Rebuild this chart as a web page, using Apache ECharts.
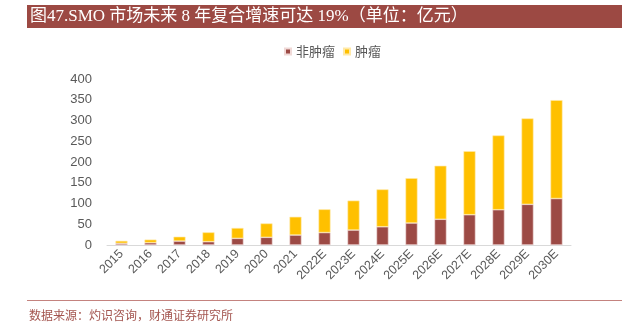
<!DOCTYPE html>
<html><head><meta charset="utf-8">
<script src="https://cdn.jsdelivr.net/npm/echarts@6/dist/echarts.min.js"></script>
<style>html,body{margin:0;padding:0;background:#fff}#c{width:631px;height:327px}</style>
</head><body><div id="c"></div>
<script>
const titleText = '图47.SMO 市场未来 8 年复合增速可达 19%（单位：亿元）';
const sourceText = '数据来源：灼识咨询，财通证券研究所';
const categories = ['2015','2016','2017','2018','2019','2020','2021','2022E','2023E','2024E','2025E','2026E','2027E','2028E','2029E','2030E'];
const nonTumor = [4, 5.5, 9.5, 8, 16, 18.5, 24, 30, 36, 44, 53, 62, 73, 85, 98, 112];
const tumor = [6, 7.5, 10.5, 22.5, 25, 33.5, 44, 56, 71, 90, 108, 129, 153, 179, 207, 237];
const seriesNames = ['非肿瘤', '肿瘤'];
const yTicks = { min: 0, max: 400, interval: 50 };

const chart = echarts.init(document.getElementById('c'), null, {renderer: 'canvas'});
chart.setOption({
  animation: false,
  backgroundColor: '#fff',
  legend: {
    top: 40, left: 279,
    itemWidth: 6, itemHeight: 6, itemGap: 8,
    icon: 'rect',
    textStyle: { color: '#595959', fontSize: 13, fontFamily: 'Noto Sans CJK SC' },
    data: seriesNames
  },
  grid: { left: 107, right: 60, top: 79, bottom: 82, containLabel: false },
  xAxis: {
    type: 'category', data: categories,
    axisLine: { lineStyle: { color: '#d9d9d9', width: 1 } },
    axisTick: { show: false },
    axisLabel: { rotate: 45, color: '#595959', fontSize: 12.5, fontFamily: 'Liberation Sans', margin: 7, interval: 0 }
  },
  yAxis: {
    type: 'value', min: yTicks.min, max: yTicks.max, interval: yTicks.interval,
    axisLine: { show: false }, axisTick: { show: false }, splitLine: { show: false },
    axisLabel: { color: '#595959', fontSize: 13, fontFamily: 'Liberation Sans', margin: 15 }
  },
  series: [
    { name: seriesNames[0], type: 'bar', stack: 't', data: nonTumor, barWidth: 12,
      itemStyle: { color: '#9C4A45', borderColor: '#f0d9d7', borderWidth: 0.6 } },
    { name: seriesNames[1], type: 'bar', stack: 't', data: tumor, barWidth: 12,
      itemStyle: { color: '#FFC000', borderColor: '#ffe9a8', borderWidth: 0.6 } }
  ],
  graphic: [
    { type: 'rect', shape: { x: 27, y: 5, width: 595, height: 23 }, style: { fill: '#9C4943' } },
    { type: 'text', x: 30, y: 16.5, style: { text: titleText, fill: '#fff', fontSize: 17,
      fontFamily: '"Liberation Serif", "DejaVu Serif", "Noto Sans CJK SC"', verticalAlign: 'middle' } },
    { type: 'rect', shape: { x: 27, y: 300, width: 595, height: 1 }, style: { fill: '#c4837f' } },
    { type: 'text', x: 29, y: 315, style: { text: sourceText, fill: '#a4554f', fontSize: 12,
      fontFamily: 'Noto Sans CJK SC', verticalAlign: 'middle' } }
  ]
});
</script></body></html>
